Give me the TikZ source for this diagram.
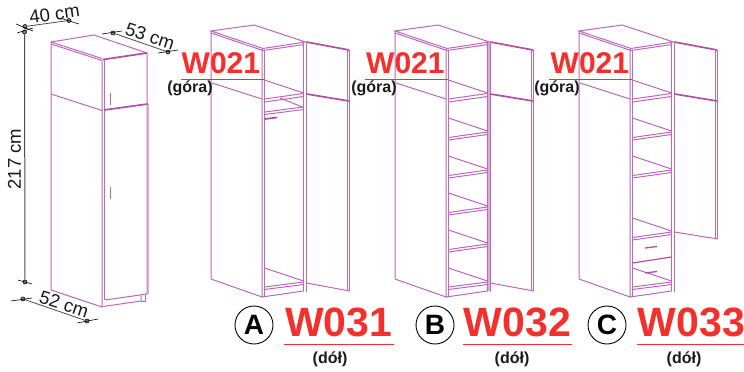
\documentclass[tikz,border=0pt]{standalone}
\usepackage{fontspec}
\setmainfont{Liberation Sans}
\definecolor{cab}{HTML}{BC68BC}
\definecolor{cabd}{HTML}{B04FA8}
\definecolor{cabl}{HTML}{D9ABD6}
\definecolor{redt}{HTML}{F5302C}
\definecolor{darkt}{HTML}{1A1A1A}
\tikzset{
  cabline/.style={draw=cab,line width=1pt},
  cabthick/.style={draw=cabd,line width=1.7pt},
  dimline/.style={draw=black!70,line width=0.8pt},
  dimtick/.style={draw=black,line width=0.6pt},
  dimdot/.style={circle,draw=black,fill=black!45,line width=0.6pt,minimum size=4pt,inner sep=0pt},
  dimtext/.style={inner sep=0pt,font=\fontsize{18.5}{20}\selectfont,text=black!90},
  topcode/.style={inner sep=0pt,anchor=base west,font=\bfseries\fontsize{30}{32}\selectfont,text=redt},
  botcode/.style={inner sep=0pt,anchor=base west,font=\bfseries\fontsize{41}{43}\selectfont,text=redt},
  smalllab/.style={inner sep=0pt,font=\bfseries\fontsize{16}{18}\selectfont,text=darkt},
  letterc/.style={circle,draw=black,line width=0.9pt,minimum size=38pt,inner sep=0pt,font=\bfseries\fontsize{28}{30}\selectfont,text=black},
  redrule/.style={draw=redt,line width=1pt}
}
% open cabinet shell; #1 = door bottom y at hinge, #2 = door bottom y at free edge
\newcommand{\cabshell}[2]{%
  \draw[cabline] (211,31) -- (254,25) -- (305.5,42) -- (263,48.5) -- cycle;
  \draw[cabline] (211,33) -- (263,50.5) -- (304,44.5);
  \draw[cabline] (211,31) -- (211,279) -- (262,297) -- (262,48.5);
  \draw[cabline] (264.5,50) -- (264.5,296.5);
  \draw[cabline] (262,297) -- (303.5,291);
  \draw[cabline] (303.5,43) -- (303.5,291);
  \draw[cabline] (306,42) -- (306,292);
  \draw[cabline] (212,83) -- (262,99);
  \draw[cabline] (264.5,80) -- (303.5,93);
  \draw[cabline] (264.5,99) -- (303.5,93.5);
  \draw[cabline] (264.5,102) -- (303.5,96.5);
  \draw[cabline] (264.5,268) -- (303.5,281);
  \draw[cabline] (264.5,287) -- (303.5,282);
  \draw[cabline] (264.5,289.5) -- (303.5,284.5);
  % door
  \draw[cabthick] (306.5,42) -- (349,50);
  \draw[cabthick] (306.5,94) -- (349,101);
  \draw[cabline] (347.6,50) -- (347.6,#2);
  \draw[cabline] (349.8,50) -- (349.8,#2);
  \draw[cabline] (306.5,#1) -- (349.8,#2);
}
\newcommand{\cabshelf}[1]{%
  \draw[cabline] (264.5,#1) -- (303.5,#1+13);
  \draw[cabline] (264.5,#1+19.5) -- (303.5,#1+14);
  \draw[cabline] (264.5,#1+22) -- (303.5,#1+16.5);
}
\begin{document}
\begin{tikzpicture}[x=1pt,y=-1pt]
\useasboundingbox (0,0) rectangle (744,372);
% closed cabinet
\draw[cabline] (51,42) -- (94,35) -- (147,53);
\draw[cabline] (51,44) -- (102,60.5);
\draw[cabline] (51,42) -- (102,58.5);
\draw[cabline] (51,42) -- (51,290) -- (102,307) -- (102,60);
\draw[cabline] (104.5,60) -- (104.5,300);
\draw[cabthick] (103,59.5) -- (147,53);
\draw[cabline] (147,53) -- (147,294) -- (105,300);
\draw[cabline,draw=cabl] (148,104) -- (148,294);
\draw[cabline] (51,94) -- (102,110.5);
\draw[cabthick] (104,110) -- (147.5,104);
\draw[cabline] (110,93) -- (110,105);
\draw[cabline] (110,187) -- (110,199);
\draw[cabline] (103,306.5) -- (141,301) -- (141,295.5);
\draw[cabline] (145,295) -- (145,301) -- (141,301);
% three open cabinets
\begin{scope}
  \cabshell{283}{291}
  \draw[cabline] (280,98) -- (303.5,107.5);
  \draw[cabline] (265,112) -- (303.5,107);
  \draw[cabline] (265,114.5) -- (303.5,109.5);
  \draw[cabthick] (265,119) -- (277,117.5);
\end{scope}
\begin{scope}[shift={(184,0)}]
  \fill[cabl] (303.5,43) rectangle (306,291);
  \cabshell{283}{291}
  \cabshelf{118}
  \cabshelf{156}
  \cabshelf{193}
  \cabshelf{230}
\end{scope}
\begin{scope}[shift={(368,0)}]
  \cabshell{232}{239}
  \cabshelf{118}
  \cabshelf{156}
  \cabshelf{218}
  \draw[cabthick,line width=1.2pt] (264.5,263) -- (303.5,257);
  \draw[cabthick,line width=1.3pt] (277,248) -- (289,246.5);
  \draw[cabthick,line width=1.3pt] (277,273) -- (289,271.5);
\end{scope}
% dimensions
\node[dimdot] (d40a) at (25,26.5) {};
\node[dimdot] (d40b) at (69,20.5) {};
\node[dimdot] (d217a) at (24.5,32) {};
\node[dimdot] (d217b) at (25,282) {};
\node[dimdot] (d53a) at (113,33) {};
\node[dimdot] (d53b) at (168,52) {};
\node[dimdot] (d52a) at (23,299) {};
\node[dimdot] (d52b) at (87,321) {};
\draw[dimline] (d40a) -- (d40b);
\draw[dimline,line width=1pt] (d217a) -- (d217b);
\draw[dimline] (d53a) -- (d53b);
\draw[dimline] (d52a) -- (d52b);
\coordinate (t1a) at (16,24); \coordinate (t1b) at (33,31);
\coordinate (t2a) at (60,18); \coordinate (t2b) at (79,24);
\coordinate (t3a) at (17,33); \coordinate (t3b) at (33,28);
\coordinate (t4a) at (18,280); \coordinate (t4b) at (32,284);
\coordinate (t5a) at (102,34); \coordinate (t5b) at (122,31);
\coordinate (t6a) at (158,53); \coordinate (t6b) at (178,50);
\coordinate (t7a) at (11,301); \coordinate (t7b) at (32,298);
\coordinate (t8a) at (77,323); \coordinate (t8b) at (98,319);
\foreach \n in {1,...,8} \draw[dimtick] (t\n a) -- (t\n b);
\node[dimtext,rotate=8] (l40) at (54.5,14) {40 cm};
\node[dimtext,rotate=90] (l217) at (14.5,159) {217 cm};
\node[dimtext,rotate=-18] (l53) at (150,36) {53 cm};
\node[dimtext,rotate=-18] (l52) at (64,304) {52 cm};
% top labels
\node[topcode] (wa) at (181.5,73) {W021};
\node[topcode] (wb) at (366,73) {W021};
\node[topcode] (wc) at (550.5,73) {W021};
\draw[redrule,line width=0.8pt] (181,79.5) -- (264,79.5);
\draw[redrule,line width=0.8pt] (365,79.5) -- (448,79.5);
\draw[redrule,line width=0.8pt] (549,79.5) -- (632,79.5);
\node[smalllab] (ga) at (190,88) {(góra)};
\node[smalllab] (gb) at (374,88) {(góra)};
\node[smalllab] (gc) at (557,88) {(góra)};
% bottom labels
\node[letterc] (ca) at (254,325) {A};
\node[letterc] (cb) at (435,325) {B};
\node[letterc] (cc) at (607,325) {C};
\node[botcode] (w1) at (285,336) {W031};
\node[botcode] (w2) at (463.5,336) {W032};
\node[botcode] (w3) at (637.5,336) {W033};
\draw[redrule] (284,344.5) -- (394,344.5);
\draw[redrule] (463,344.5) -- (572,344.5);
\draw[redrule] (637,344.5) -- (744,344.5);
\node[smalllab] (da) at (330,359) {(dół)};
\node[smalllab] (db) at (512,359) {(dół)};
\node[smalllab] (dc) at (684,359) {(dół)};
\end{tikzpicture}
\end{document}
